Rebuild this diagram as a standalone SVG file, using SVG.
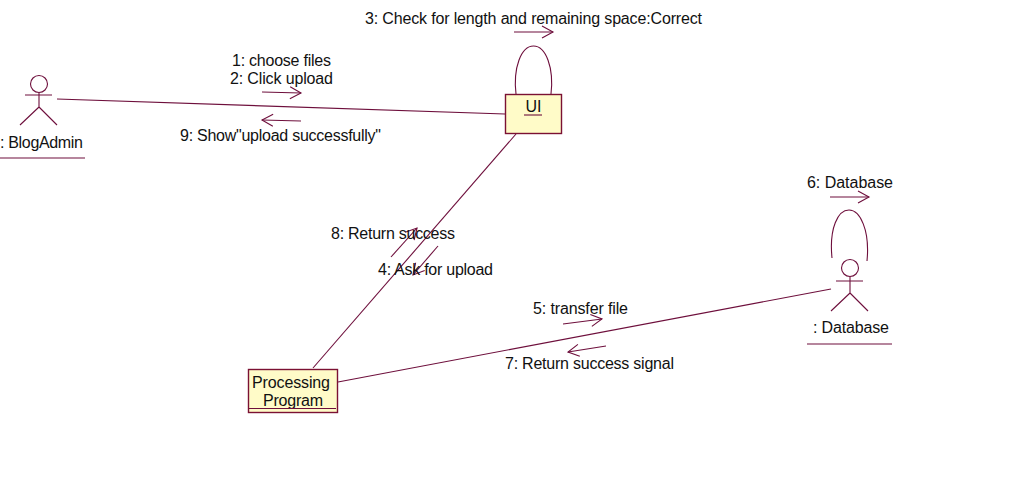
<svg xmlns="http://www.w3.org/2000/svg" width="1026" height="478" viewBox="0 0 1026 478">
<style>
.l{fill:none;stroke:#6e0f3c;stroke-width:1.1}
.b{fill:#fffbc8;stroke:#7b1133;stroke-width:1.4}
.t{font-family:"Liberation Sans",Arial,sans-serif;font-size:16px;fill:#111}
.m{text-anchor:middle}
</style>
<defs>
<marker id="o" markerWidth="14" markerHeight="14" refX="12" refY="7" orient="auto" markerUnits="userSpaceOnUse"><path d="M1 1L12 7L1 13" fill="none" stroke="#6e0f3c" stroke-width="1.1"/></marker>
</defs>
<rect width="1026" height="478" fill="#fff"/>
<g id="connectors">
<path class="l" d="M57 99L505 114"/>
<path class="l" d="M516 134L313 368"/>
<path class="l" d="M338 382L831 289"/>
<path class="l" d="M516 94C513 68 521 46 533.500 46C546 46 554 68 551 94"/>
<path class="l" d="M832 258C829 228 838 210 849 210C860 210 870 230 867 261"/>
<path class="l" d="M262 92L301 93" marker-end="url(#o)"/>
<path class="l" d="M301 121L262 120" marker-end="url(#o)"/>
<path class="l" d="M514 32L553 32" marker-end="url(#o)"/>
<path class="l" d="M830 197L869 197" marker-end="url(#o)"/>
<path class="l" d="M391 257L417 228" marker-end="url(#o)"/>
<path class="l" d="M438 246L413 275" marker-end="url(#o)"/>
<path class="l" d="M563 324L602 319" marker-end="url(#o)"/>
<path class="l" d="M606 346L568 352" marker-end="url(#o)"/>
</g>
<g id="blogadmin">
<circle class="l" cx="39" cy="84" r="8.500"/>
<path class="l" d="M39 93V107M25 95H52M39 107L20 125M39 107L57 125"/>
<text class="t" x="0" y="148" textLength="83">: BlogAdmin</text>
<path class="l" d="M0 158H85"/>
</g>
<g id="ui">
<rect class="b" x="505.500" y="94.500" width="56" height="39"/>
<text class="t m" x="533.500" y="112">UI</text>
<path class="l" d="M524 115H542"/>
</g>
<g id="processing-program">
<rect class="b" x="248.500" y="369.500" width="89" height="43"/>
<text class="t" x="252" y="388" textLength="78">Processing</text>
<text class="t" x="263" y="406" textLength="60">Program</text>
<path class="l" d="M249 408.500H336"/>
</g>
<g id="database">
<circle class="l" cx="850" cy="268" r="8.500"/>
<path class="l" d="M850 277V293M836 281H863M850 293L831 311M850 293L868 311"/>
<text class="t" x="813" y="333" textLength="76">: Database</text>
<path class="l" d="M807 344H892"/>
</g>
<g id="labels">
<text class="t" x="365" y="23.500" textLength="337">3: Check for length and remaining space:Correct</text>
<text class="t" x="232" y="66" textLength="99">1: choose files</text>
<text class="t" x="230" y="84" textLength="103">2: Click upload</text>
<text class="t" x="180" y="141" textLength="201">9: Show"upload successfully"</text>
<text class="t" x="807" y="188" textLength="86">6: Database</text>
<text class="t" x="331" y="239" textLength="124">8: Return success</text>
<text class="t" x="378" y="275" textLength="115">4: Ask for upload</text>
<text class="t" x="533" y="314" textLength="95">5: transfer file</text>
<text class="t" x="505" y="369" textLength="169">7: Return success signal</text>
</g>
</svg>
